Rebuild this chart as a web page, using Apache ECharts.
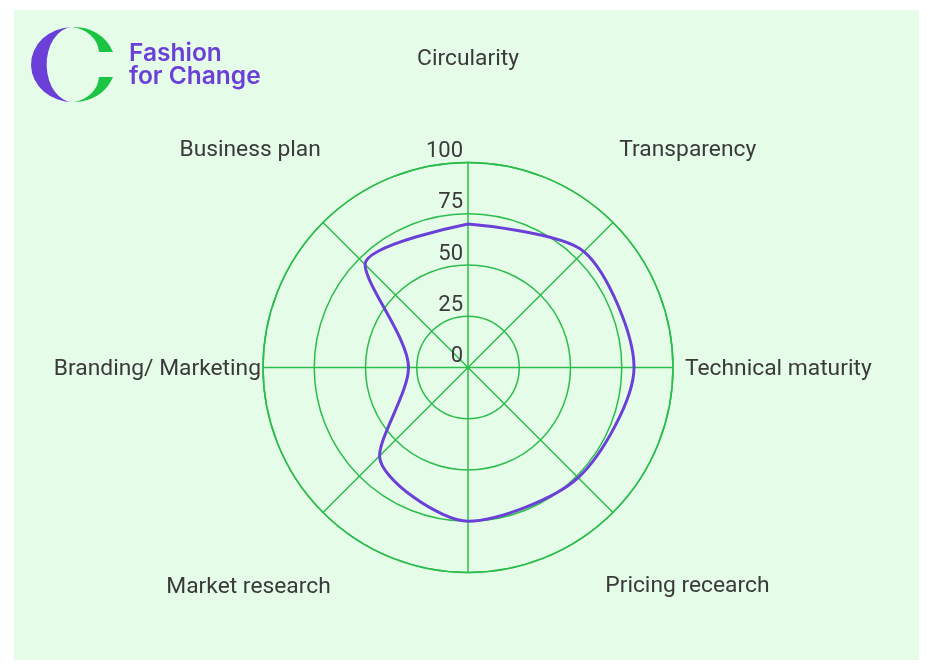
<!DOCTYPE html>
<html style="height: 100%">

<head>
	<meta charset="utf-8">
</head>

<body style="height: 100%; margin: 0; background: #ffffff">
	<div id="container" style="width: 927px; height: 666px;"></div>
	<script type="text/javascript" src="https://cdn.jsdelivr.net/npm/echarts@6.0.0/dist/echarts.min.js"></script>
	<script type="text/javascript">
		// chart data
		let categories = ['Circularity', 'Transparency', 'Technical maturity', 'Pricing recearch', '', 'Market research', 'Branding/ Marketing', 'Business plan'];
		let scores = [70, 80, 81, 76, 75, 61, 29, 71];
		let radiusTicks = [0, 25, 50, 75, 100];

		let gridColor = '#2cbd4c';
		let lineColor = '#6a40d8';
		let textColor = '#3a3a3a';

		let dom = document.getElementById("container");
		let myChart = echarts.init(dom);
		let option = null;

		let angleStep = 360 / categories.length;

		// logo mark, drawn as a small svg
		let logoSvg = '<svg xmlns="http://www.w3.org/2000/svg" width="90" height="80" viewBox="28 25 90 80">' +
			'<path d="M72,27 A42,37.5 0 0,0 74,102 A26,37 0 0,1 72,27 Z" fill="#6b40d9"/>' +
			'<path d="M72,27 A41,38 0 0,1 113,52 L99,52 A31,27 0 0,0 72,27 Z" fill="#1cc443"/>' +
			'<path d="M113,77 A41,38 0 0,1 74,102 A31,27 0 0,0 99,77 Z" fill="#1cc443"/>' +
			'</svg>';

		// rich style key per category, padding pushes each name out to its place
		let richKeys = ['c', 'tr', 'tm', 'pr', 'b', 'mr', 'bm', 'bp'];
		let richPads = {
			c: [0, 0, 234, 0],
			tr: [0, 0, 156, 24],
			tm: [4, 0, 0, 37],
			pr: [161, 0, 0, 10],
			b: [0, 0, 0, 0],
			mr: [162, 10, 0, 0],
			bm: [4, 27, 0, 0],
			bp: [0, 20, 156, 0]
		};
		let rich = {};
		for (let k in richPads) {
			rich[k] = {
				padding: richPads[k],
				fontFamily: 'Roboto',
				fontSize: 22.8,
				lineHeight: 23,
				color: textColor
			};
		}

		// polar points, the first one again at the end to close the shape
		let seriesData = [];
		for (let i = 0; i < scores.length; i++) {
			seriesData.push([scores[i], i * angleStep]);
		}
		seriesData.push([scores[0], 360]);

		option = {
			backgroundColor: '#ffffff',
			title: {
				text: 'Fashion\nfor Change',
				left: 124,
				top: 37,
				textStyle: {
					fontFamily: 'Inter',
					fontWeight: 600,
					fontSize: 24.5,
					lineHeight: 23,
					color: '#6b40d9'
				}
			},
			graphic: [
				{
					type: 'rect',
					z: -10,
					shape: { x: 14, y: 10, width: 905, height: 650 },
					style: { fill: '#e5fce8' }
				},
				{
					type: 'image',
					left: 28,
					top: 25,
					style: {
						image: 'data:image/svg+xml;charset=utf-8,' + encodeURIComponent(logoSvg),
						width: 90,
						height: 80
					}
				}
			],
			polar: {
				center: [468, 367.5],
				radius: 205
			},
			angleAxis: {
				type: 'value',
				min: 0,
				max: 360,
				interval: angleStep,
				startAngle: 90,
				clockwise: true,
				axisLine: {
					show: true,
					lineStyle: { color: gridColor, width: 1.5 }
				},
				axisTick: { show: false },
				splitLine: {
					show: true,
					lineStyle: { color: gridColor, width: 1.5 }
				},
				axisLabel: {
					margin: -25,
					rich: rich,
					formatter: function (value) {
						let idx = Math.round(value / angleStep);
						if (idx >= categories.length || !categories[idx]) {
							return '';
						}
						return '{' + richKeys[idx] + '|' + categories[idx] + '}';
					}
				}
			},
			radiusAxis: {
				type: 'value',
				min: radiusTicks[0],
				max: radiusTicks[radiusTicks.length - 1],
				interval: radiusTicks[1] - radiusTicks[0],
				axisLine: { show: false },
				axisTick: { show: false },
				splitLine: {
					show: true,
					lineStyle: { color: gridColor, width: 1.5 }
				},
				axisLabel: {
					show: true,
					margin: 5,
					align: 'right',
					verticalAlign: 'bottom',
					fontFamily: 'Roboto',
					fontSize: 22,
					lineHeight: 22,
					color: textColor
				}
			},
			series: [
				{
					type: 'line',
					coordinateSystem: 'polar',
					data: seriesData,
					smooth: 0.28,
					symbol: 'none',
					lineStyle: { color: lineColor, width: 3 },
					z: 5
				}
			]
		};

		if (option && typeof option === "object") {
			myChart.setOption(option, true);
		}
	</script>
</body>
</html>
